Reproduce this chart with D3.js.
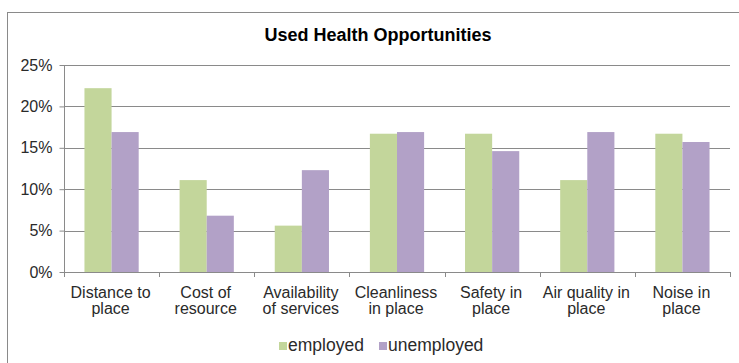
<!DOCTYPE html>
<html>
<head>
<meta charset="utf-8">
<script src="https://cdn.jsdelivr.net/npm/d3@7"></script>
<style>
  html, body { margin: 0; padding: 0; background: #fff; }
  svg { display: block; font-family: Arial, "Liberation Sans", sans-serif; }
</style>
</head>
<body>
<svg id="chart" width="739" height="363"></svg>
<script>
// Category labels, split into the two lines shown under each group
const categories = [
  ["Distance to", "place"],
  ["Cost of", "resource"],
  ["Availability", "of services"],
  ["Cleanliness", "in place"],
  ["Safety in", "place"],
  ["Air quality in", "place"],
  ["Noise in", "place"]
];
const seriesNames = ["employed", "unemployed"];
const employed   = [0.222, 0.111, 0.056, 0.167, 0.167, 0.111, 0.167];
const unemployed = [0.169, 0.068, 0.123, 0.169, 0.146, 0.169, 0.157];
const yTicks = [0, 0.05, 0.10, 0.15, 0.20, 0.25];
const colors = ["#C3D69B", "#B2A1C7"];
const title = "Used Health Opportunities";

const svg = d3.select("#chart");
const plot = { left: 64, right: 730, top: 65, bottom: 272 };

// Outer chart frame (runs past the right and bottom edges)
svg.append("rect")
  .attr("x", 7.5).attr("y", 12.5)
  .attr("width", 760).attr("height", 380)
  .attr("fill", "#fff").attr("stroke", "#8a8a8a").attr("stroke-width", 1);

svg.append("text")
  .attr("x", 378).attr("y", 41)
  .attr("text-anchor", "middle")
  .attr("font-size", 18).attr("font-weight", "bold")
  .attr("fill", "#000")
  .text(title);

const keys = categories.map(c => c.join(" "));
const x = d3.scaleBand().domain(keys).range([plot.left, plot.right])
  .paddingInner(0.43).paddingOuter(0.215);
const xs = d3.scaleBand().domain(seriesNames).range([0, x.bandwidth()]);
const y = d3.scaleLinear().domain([0, 0.25]).range([plot.bottom, plot.top]);

// Horizontal gridlines
svg.append("g").selectAll("line")
  .data(yTicks.filter(t => t > 0))
  .join("line")
  .attr("x1", plot.left).attr("x2", plot.right)
  .attr("y1", d => Math.round(y(d)) + 0.5).attr("y2", d => Math.round(y(d)) + 0.5)
  .attr("stroke", "#8a8a8a").attr("stroke-width", 1);

// Bars
const series = [employed, unemployed];
series.forEach((vals, si) => {
  svg.append("g").selectAll("rect")
    .data(vals)
    .join("rect")
    .attr("x", (d, i) => x(keys[i]) + xs(seriesNames[si]))
    .attr("width", xs.bandwidth())
    .attr("y", d => y(d))
    .attr("height", d => y(0) - y(d))
    .attr("fill", colors[si]);
});

// Y axis
const yAxis = svg.append("g")
  .attr("transform", `translate(${plot.left + 0.5},0)`)
  .call(d3.axisLeft(y).tickValues(yTicks).tickSize(5).tickPadding(7)
    .tickFormat(d3.format(".0%")));
yAxis.selectAll("path, line").attr("stroke", "#8a8a8a");
yAxis.select(".domain").attr("d", `M0,${plot.top}V${plot.bottom}`);
yAxis.selectAll("text").attr("font-size", 16).attr("fill", "#2a2a2a")
  .attr("font-family", "Arial, 'Liberation Sans', sans-serif");

// X axis line with tick marks at the category boundaries
const step = x.step();
const bounds = keys.map(k => x(k) - step * x.paddingInner() / 2);
bounds.push(plot.right);
const xAxis = svg.append("g");
xAxis.append("line")
  .attr("x1", plot.left).attr("x2", plot.right)
  .attr("y1", plot.bottom + 0.5).attr("y2", plot.bottom + 0.5)
  .attr("stroke", "#8a8a8a");
xAxis.selectAll("line.tick").data(bounds).join("line")
  .attr("class", "tick")
  .attr("x1", d => Math.round(d) + 0.5).attr("x2", d => Math.round(d) + 0.5)
  .attr("y1", plot.bottom).attr("y2", plot.bottom + 5)
  .attr("stroke", "#8a8a8a");

const labels = xAxis.selectAll("text.cat").data(categories).join("text")
  .attr("class", "cat")
  .attr("text-anchor", "middle")
  .attr("font-size", 16).attr("fill", "#2a2a2a")
  .attr("x", (d, i) => x(keys[i]) + x.bandwidth() / 2 - 1)
  .attr("y", 298);
labels.selectAll("tspan").data(d => d).join("tspan")
  .attr("x", function () { return d3.select(this.parentNode).attr("x"); })
  .attr("dy", (d, i) => i === 0 ? 0 : 16)
  .text(d => d);

// Legend
const legendX = [279, 379];
const legend = svg.append("g");
seriesNames.forEach((name, i) => {
  legend.append("rect")
    .attr("x", legendX[i]).attr("y", 342)
    .attr("width", 8).attr("height", 8)
    .attr("fill", colors[i]);
  legend.append("text")
    .attr("x", legendX[i] + 9).attr("y", 351)
    .attr("font-size", 17.5).attr("fill", "#2a2a2a")
    .text(name);
});
</script>
</body>
</html>
